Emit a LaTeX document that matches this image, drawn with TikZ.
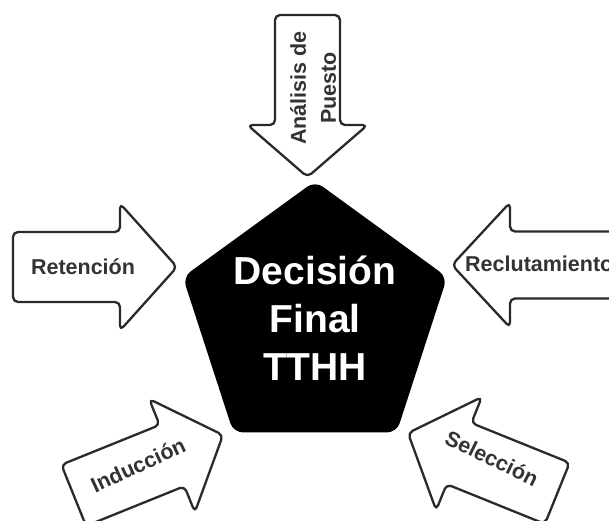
\documentclass[tikz,border=0pt]{standalone}
\usepackage{fontspec}
\newfontfamily\labfont{Liberation Sans}
\tikzset{
  arrowline/.style={draw=arrowgray, line width=2.3pt, fill=white, rounded corners=5pt, line join=round},
  pentagon/.style={draw=black, line width=1.5pt, fill=black, rounded corners=9pt, line join=round},
  lab/.style={text=labgray, font=\labfont\bfseries\fontsize{21.5}{30}\selectfont, inner sep=0pt, align=center},
  centerlab/.style={text=white, font=\labfont\bfseries\fontsize{39}{48}\selectfont, inner sep=0pt, align=center},
  % block arrow with its tip at the origin, pointing along +x
  pics/blockarrow/.style args={#1/#2/#3/#4}{code={
    \draw[arrowline] (0,0) -- (-#1,#2) -- (-#1,#3) -- (-#1-#4,#3)
      -- (-#1-#4,-#3) -- (-#1,-#3) -- (-#1,-#2) -- cycle;
  }}
}
\definecolor{arrowgray}{HTML}{2A2A2A}
\definecolor{labgray}{HTML}{333333}
\begin{document}
\begin{tikzpicture}[x=1pt,y=1pt]
\useasboundingbox (0,0) rectangle (609,-520);
\fill[white] (0,0) rectangle (609,-520);

% arrows pointing towards the central pentagon
\pic[rotate=-90] at (307.5,-177) {blockarrow=52/60/32.5/110};
\pic at (177,-267) {blockarrow=57/63.5/35/107};
\pic[rotate=180] at (452,-265) {blockarrow=58/62.5/33.5/220};
\pic[rotate=22] at (223,-435) {blockarrow=55/61/33/106};
\pic[rotate=158] at (408,-433) {blockarrow=55/61/33/106};

% central pentagon
\draw[pentagon, shift={(315,-320)}] (90:138pt) -- (162:138pt) -- (234:138pt)
  -- (306:138pt) -- (18:138pt) -- cycle;
\node[centerlab] (decision) at (315,-318) {Decisión\\Final\\TTHH};

% labels
\node[lab, rotate=90] (analisis) at (313,-88) {Análisis de\\Puesto};
\node[lab] (retencion) at (83,-267) {Retención};
\node[lab, anchor=west] (reclutamiento) at (465,-264) {Reclutamiento};
\node[lab, rotate=25] (induccion) at (138,-465) {Inducción};
\node[lab, rotate=-26] (seleccion) at (492,-458) {Selección};
\end{tikzpicture}
\end{document}
